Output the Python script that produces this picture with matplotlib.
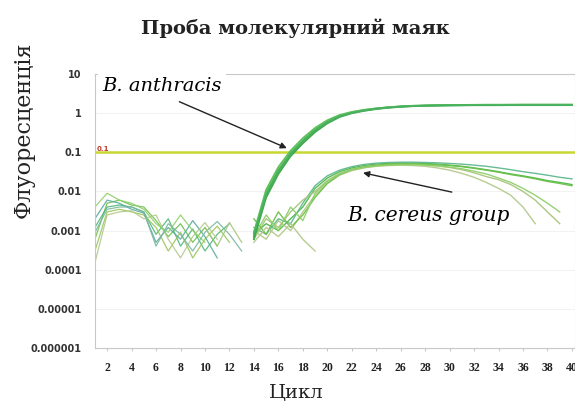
import numpy as np
import matplotlib.pyplot as plt

nan = np.nan

# cycles for baseline noise and for amplification part
cycles_base = np.arange(1, 14)
cycles_amp = np.arange(14, 41)

# baseline noise (cycles 1..13)
base_series = [
    [0.0006, 0.005, 0.006, 0.0045, 0.004, 0.0018, 0.0007, 0.0015, 0.0005, 0.0012, 0.0004, nan, nan],
    [0.0012, 0.004, 0.0045, 0.004, 0.003, 0.0008, 0.002, 0.0004, 0.0011, 0.0003, 0.0008, 0.0015, nan],
    [0.0003, 0.003, 0.0035, 0.003, 0.0025, 0.0012, 0.0003, 0.0009, 0.0002, 0.0006, 0.0013, 0.0005, nan],
    [0.002, 0.006, 0.005, 0.0035, 0.0028, 0.0005, 0.0012, 0.0006, 0.0018, 0.0007, 0.0002, nan, nan],
    [0.00015, 0.0025, 0.003, 0.0032, 0.002, 0.0025, 0.0006, 0.0002, 0.0007, 0.0016, 0.0006, nan, nan],
    [0.004, 0.009, 0.006, 0.005, 0.0035, 0.0015, 0.0009, 0.0025, 0.001, 0.0005, nan, nan, nan],
    [0.0009, 0.0035, 0.004, 0.004, 0.003, 0.0004, 0.0015, 0.0008, 0.0003, 0.0009, 0.0017, 0.0008, 0.0003],
    [nan, nan, nan, nan, nan, nan, nan, nan, nan, 0.0012, 0.0004, 0.0016, 0.0005],
]
base_colors = ['#6cc04a', '#4db87a', '#9cc65a', '#5aa9a0', '#b4c98c', '#8fd06a', '#7ab8a0', '#a8c47c']

# B. anthracis (cycles 14..40)
anthracis = [
    [0.0007, 0.009, 0.035, 0.095, 0.2, 0.38, 0.6, 0.85, 1.05, 1.2, 1.32, 1.42, 1.5, 1.55, 1.58,
     1.6, 1.62, 1.63, 1.64, 1.65, 1.65, 1.65, 1.66, 1.66, 1.66, 1.66, 1.66],
    [0.0006, 0.007, 0.028, 0.08, 0.17, 0.33, 0.55, 0.8, 1.0, 1.15, 1.28, 1.38, 1.46, 1.52, 1.56,
     1.58, 1.6, 1.61, 1.62, 1.63, 1.63, 1.64, 1.64, 1.64, 1.64, 1.64, 1.64],
    [0.0009, 0.011, 0.042, 0.11, 0.23, 0.42, 0.66, 0.9, 1.08, 1.22, 1.33, 1.42, 1.49, 1.54, 1.57,
     1.59, 1.6, 1.61, 1.62, 1.62, 1.62, 1.63, 1.63, 1.63, 1.63, 1.63, 1.63],
    [0.0008, 0.008, 0.032, 0.09, 0.19, 0.36, 0.58, 0.83, 1.02, 1.17, 1.3, 1.4, 1.47, 1.52, 1.55,
     1.57, 1.58, 1.59, 1.6, 1.6, 1.6, 1.61, 1.61, 1.61, 1.61, 1.61, 1.61],
]
anthracis_colors = ['#4cb848', '#3ea84a', '#5cc05a', '#48b060']

# B. cereus group (cycles 14..40)
cereus = [
    [0.0008, 0.0015, 0.001, 0.002, 0.004, 0.012, 0.022, 0.032, 0.04, 0.046, 0.05, 0.052, 0.053, 0.053,
     0.052, 0.05, 0.047, 0.044, 0.04, 0.036, 0.032, 0.028, 0.025, 0.022, 0.019, 0.017, 0.015],
    [0.0012, 0.0008, 0.002, 0.0015, 0.005, 0.014, 0.025, 0.035, 0.043, 0.049, 0.053, 0.055, 0.056, 0.056,
     0.055, 0.054, 0.052, 0.05, 0.047, 0.044, 0.04, 0.036, 0.032, 0.029, 0.026, 0.023, 0.021],
    [0.0006, 0.002, 0.0012, 0.003, 0.006, 0.01, 0.019, 0.029, 0.037, 0.043, 0.047, 0.049, 0.05, 0.05,
     0.048, 0.045, 0.041, 0.036, 0.03, 0.024, 0.02, 0.015, 0.01, 0.006, 0.003, 0.0015, nan],
    [0.001, 0.0006, 0.0018, 0.001, 0.003, 0.008, 0.016, 0.026, 0.034, 0.04, 0.044, 0.046, 0.047, 0.046,
     0.044, 0.04, 0.035, 0.029, 0.023, 0.017, 0.012, 0.008, 0.004, 0.0015, nan, nan, nan],
    [0.002, 0.0008, 0.003, 0.0012, 0.0025, 0.007, 0.016, 0.027, 0.036, 0.042, 0.047, 0.05, 0.051, 0.051,
     0.05, 0.048, 0.046, 0.043, 0.039, 0.035, 0.031, 0.027, 0.024, 0.021, 0.018, 0.016, 0.014],
    [0.0005, 0.0012, 0.0007, 0.0015, 0.0006, 0.0003, nan, nan, nan, nan, nan, nan, nan, nan,
     nan, nan, nan, nan, nan, nan, nan, nan, nan, nan, nan, nan, nan],
    [0.0007, 0.0025, 0.001, 0.004, 0.0018, 0.009, 0.018, 0.028, 0.036, 0.041, 0.045, 0.047, 0.048, 0.048,
     0.047, 0.045, 0.042, 0.038, 0.033, 0.028, 0.022, 0.017, 0.012, 0.008, 0.005, 0.003, nan],
]
cereus_colors = ['#4cb848', '#5fb88f', '#a8c47c', '#b4c98c', '#6cc04a', '#b4c98c', '#8fd06a']

threshold = 0.1
ytick_vals = [10, 1, 0.1, 0.01, 0.001, 0.0001, 0.00001, 0.000001]
ytick_labels = ['10', '1', '0.1', '0.01', '0.001', '0.0001', '0.00001', '0.000001']
xtick_vals = list(range(2, 41, 2))

fig = plt.figure(figsize=(5.75, 4.05), dpi=100)
ax = fig.add_axes([0.165, 0.141, 0.835, 0.676])

for vals, c in zip(base_series, base_colors):
    ax.plot(cycles_base, vals, color=c, lw=0.9, alpha=0.9)
for vals, c in zip(cereus, cereus_colors):
    ax.plot(cycles_amp, vals, color=c, lw=1.0, alpha=0.95)
for vals, c in zip(anthracis, anthracis_colors):
    ax.plot(cycles_amp, vals, color=c, lw=1.3)

ax.axhline(threshold, color='#c8d832', lw=1.8, zorder=1.5)
ax.text(1.15, threshold, '0.1', color='#c0392b', fontsize=5, fontweight='bold',
        va='bottom', ha='left')

ax.set_yscale('log')
ax.set_ylim(0.000001, 10)
ax.set_xlim(1, 40.25)
ax.set_yticks(ytick_vals)
ax.set_yticklabels(ytick_labels, fontsize=7, fontweight='bold', color='#333333',
                   family='DejaVu Sans')
ax.minorticks_off()
ax.set_xticks(xtick_vals)
ax.set_xticklabels([str(v) for v in xtick_vals], fontsize=8.5, fontweight='bold',
                   family='Liberation Serif', color='#222222')
ax.tick_params(axis='x', length=2, color='#c8c8c8', pad=8)
ax.tick_params(axis='y', length=0, pad=9.5)
ax.grid(axis='y', color='#f2f2f2', lw=0.8, zorder=0)
ax.set_axisbelow(True)
for s in ax.spines.values():
    s.set_color('#c8c8c8')
    s.set_linewidth(0.8)

# labels
ax.text(1.6, 4.9, 'B. anthracis', fontsize=14, style='italic', family='DejaVu Serif',
        va='center', ha='left', bbox=dict(facecolor='white', edgecolor='none', pad=3))
ax.annotate('', xy=(16.9, 0.12), xytext=(7.7, 2.1),
            arrowprops=dict(arrowstyle='-|>', color='#222222', lw=1, mutation_scale=9))
ax.text(21.65, 0.0024, 'B. cereus group', fontsize=14.5, style='italic', family='DejaVu Serif',
        va='center', ha='left', bbox=dict(facecolor='white', edgecolor='none', pad=3))
ax.annotate('', xy=(22.7, 0.031), xytext=(30.4, 0.0093),
            arrowprops=dict(arrowstyle='-|>', color='#222222', lw=1, mutation_scale=9))

fig.text(0.513, 0.93, 'Проба молекулярний маяк', fontsize=14, fontweight='bold',
         family='DejaVu Serif', ha='center', va='center', color='#222222')
fig.text(0.041, 0.68, 'Флуоресценція', fontsize=16, family='DejaVu Serif',
         rotation=90, ha='center', va='center', color='#222222')
fig.text(0.515, 0.03, 'Цикл', fontsize=14, family='DejaVu Serif',
         ha='center', va='center', color='#222222')

fig.savefig('out.png', dpi=100)
